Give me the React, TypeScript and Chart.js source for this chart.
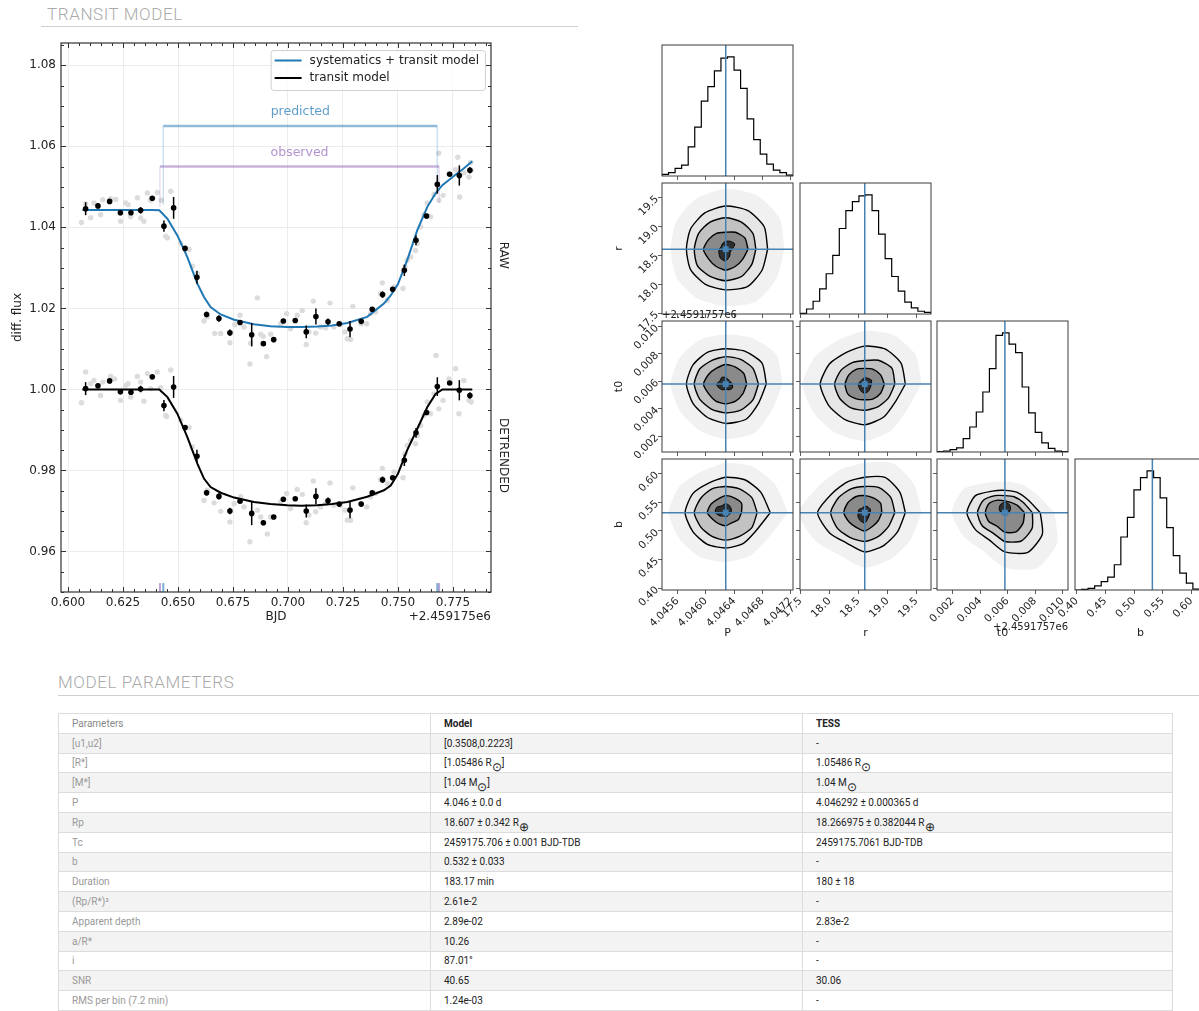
import React, { useEffect, useRef } from "react";
import { Chart, registerables } from "chart.js";

Chart.register(...registerables);

const PLOT_FONT = "'DejaVu Sans', 'Liberation Sans', sans-serif";
const PAGE_FONT = "Roboto, 'Noto Sans', sans-serif";
Chart.defaults.font.family = PLOT_FONT;
Chart.defaults.color = "#222";

// ---------------- light curve: binned points (7.2 min bins) ----------------
const binTime = [0.6080, 0.6136, 0.6189, 0.6238, 0.6286, 0.6330, 0.6383, 0.6436, 0.6480, 0.6532, 0.6586, 0.6630, 0.6686, 0.6736, 0.6782, 0.6835, 0.6888, 0.6935, 0.6979, 0.7033, 0.7083, 0.7127, 0.7182, 0.7233, 0.7282, 0.7333, 0.7383, 0.7430, 0.7476, 0.7529, 0.7582, 0.7630, 0.7679, 0.7735, 0.7779, 0.7827];
const rawBinFlux = [1.0446, 1.0453, 1.0464, 1.0436, 1.0436, 1.0442, 1.0472, 1.0403, 1.0448, 1.0348, 1.0277, 1.0185, 1.0175, 1.0140, 1.0165, 1.0135, 1.0113, 1.0123, 1.0169, 1.0170, 1.0142, 1.0180, 1.0167, 1.0162, 1.0149, 1.0168, 1.0198, 1.0234, 1.0247, 1.0294, 1.0368, 1.0428, 1.0506, 1.0531, 1.0528, 1.0541];
const detBinFlux = [1.0002, 1.0009, 1.0021, 0.9994, 0.9993, 1.0001, 1.0031, 0.9960, 1.0006, 0.9906, 0.9835, 0.9745, 0.9736, 0.9700, 0.9724, 0.9694, 0.9671, 0.9685, 0.9729, 0.9730, 0.9700, 0.9736, 0.9725, 0.9717, 0.9702, 0.9717, 0.9745, 0.9777, 0.9782, 0.9825, 0.9893, 0.9943, 1.0007, 1.0016, 0.9998, 0.9985];
const binErr = [0.0016, 0.0006, 0.0003, 0.0006, 0.0005, 0.0008, 0.0004, 0.0014, 0.0027, 0.0004, 0.0016, 0.0007, 0.0008, 0.0008, 0.0003, 0.0029, 0.0006, 0.0002, 0.0005, 0.0004, 0.0016, 0.0020, 0.0008, 0.0003, 0.0020, 0.0003, 0.0004, 0.0008, 0.0003, 0.0014, 0.0012, 0.0006, 0.0023, 0.0003, 0.0025, 0.0008];

// ---------------- light curve: unbinned exposures ----------------
const rawPtTime = [0.6061, 0.6080, 0.6103, 0.6118, 0.6148, 0.6158, 0.6194, 0.6217, 0.6239, 0.6262, 0.6273, 0.6285, 0.6315, 0.6330, 0.6345, 0.6361, 0.6376, 0.6406, 0.6424, 0.6444, 0.6452, 0.6467, 0.6512, 0.6550, 0.6565, 0.6588, 0.6618, 0.6633, 0.6667, 0.6694, 0.6736, 0.6758, 0.6782, 0.6800, 0.6827, 0.6830, 0.6861, 0.6876, 0.6888, 0.6903, 0.6921, 0.6936, 0.6967, 0.6994, 0.7012, 0.7042, 0.7065, 0.7083, 0.7095, 0.7115, 0.7126, 0.7148, 0.7171, 0.7191, 0.7209, 0.7239, 0.7259, 0.7270, 0.7285, 0.7295, 0.7333, 0.7358, 0.7376, 0.7398, 0.7421, 0.7429, 0.7452, 0.7482, 0.7523, 0.7532, 0.7542, 0.7558, 0.7580, 0.7588, 0.7603, 0.7618, 0.7633, 0.7648, 0.7664, 0.7685, 0.7686, 0.7705, 0.7732, 0.7762, 0.7772, 0.7780, 0.7800, 0.7823, 0.7830, 0.7833];
const rawPtFlux = [1.0412, 1.0458, 1.0424, 1.0460, 1.0431, 1.0468, 1.0471, 1.0469, 1.0415, 1.0460, 1.0456, 1.0426, 1.0473, 1.0423, 1.0415, 1.0485, 1.0467, 1.0486, 1.0467, 1.0378, 1.0374, 1.0489, 1.0361, 1.0346, 1.0304, 1.0286, 1.0169, 1.0179, 1.0138, 1.0138, 1.0115, 1.0160, 1.0183, 1.0154, 1.0063, 1.0114, 1.0226, 1.0136, 1.0131, 1.0081, 1.0136, 1.0121, 1.0162, 1.0187, 1.0150, 1.0183, 1.0195, 1.0111, 1.0142, 1.0218, 1.0139, 1.0154, 1.0152, 1.0213, 1.0154, 1.0160, 1.0142, 1.0125, 1.0123, 1.0205, 1.0162, 1.0162, 1.0187, 1.0191, 1.0236, 1.0263, 1.0220, 1.0253, 1.0249, 1.0302, 1.0319, 1.0327, 1.0343, 1.0360, 1.0401, 1.0431, 1.0460, 1.0426, 1.0481, 1.0583, 1.0467, 1.0479, 1.0533, 1.0542, 1.0573, 1.0475, 1.0535, 1.0524, 1.0560, 1.0541];
const detPtTime = [0.6061, 0.6080, 0.6103, 0.6118, 0.6148, 0.6158, 0.6194, 0.6212, 0.6239, 0.6262, 0.6273, 0.6285, 0.6315, 0.6330, 0.6345, 0.6361, 0.6376, 0.6406, 0.6421, 0.6444, 0.6448, 0.6467, 0.6512, 0.6550, 0.6565, 0.6588, 0.6618, 0.6633, 0.6664, 0.6694, 0.6736, 0.6755, 0.6785, 0.6800, 0.6827, 0.6861, 0.6876, 0.6906, 0.6921, 0.6967, 0.6994, 0.7012, 0.7042, 0.7065, 0.7083, 0.7095, 0.7115, 0.7126, 0.7148, 0.7171, 0.7191, 0.7209, 0.7239, 0.7259, 0.7270, 0.7285, 0.7295, 0.7330, 0.7358, 0.7376, 0.7398, 0.7421, 0.7429, 0.7452, 0.7482, 0.7523, 0.7532, 0.7542, 0.7558, 0.7580, 0.7588, 0.7603, 0.7618, 0.7633, 0.7648, 0.7664, 0.7673, 0.7686, 0.7705, 0.7732, 0.7762, 0.7777, 0.7800, 0.7823, 0.7833];
const detPtFlux = [0.9967, 1.0043, 1.0014, 1.0022, 0.9985, 1.0018, 1.0032, 1.0026, 0.9973, 1.0010, 1.0014, 0.9981, 1.0032, 1.0018, 0.9971, 1.0039, 1.0002, 1.0043, 1.0004, 0.9936, 0.9933, 1.0048, 0.9924, 0.9906, 0.9858, 0.9837, 0.9726, 0.9751, 0.9720, 0.9699, 0.9673, 0.9718, 0.9735, 0.9710, 0.9624, 0.9702, 0.9685, 0.9643, 0.9685, 0.9722, 0.9743, 0.9706, 0.9753, 0.9741, 0.9671, 0.9690, 0.9774, 0.9698, 0.9710, 0.9718, 0.9769, 0.9714, 0.9714, 0.9702, 0.9677, 0.9677, 0.9757, 0.9718, 0.9710, 0.9735, 0.9743, 0.9777, 0.9805, 0.9768, 0.9796, 0.9782, 0.9841, 0.9862, 0.9874, 0.9866, 0.9887, 0.9911, 0.9936, 0.9969, 0.9940, 0.9989, 1.0084, 0.9952, 0.9973, 1.0026, 1.0051, 0.9940, 1.0022, 0.9973, 0.9969];

// ---------------- light curve: fitted models ----------------
const modelTime = [0.6065, 0.6200, 0.6300, 0.6380, 0.6415, 0.6452, 0.6497, 0.6542, 0.6588, 0.6618, 0.6648, 0.6694, 0.6755, 0.6845, 0.6920, 0.6997, 0.7060, 0.7133, 0.7200, 0.7270, 0.7360, 0.7436, 0.7467, 0.7500, 0.7542, 0.7588, 0.7633, 0.7671, 0.7702, 0.7750, 0.7800, 0.7838];
const systematicsModel = [1.0443, 1.0443, 1.0443, 1.0443, 1.0442, 1.0421, 1.0380, 1.0327, 1.0261, 1.0228, 1.0203, 1.0185, 1.0172, 1.0161, 1.0156, 1.0154, 1.0154, 1.0155, 1.0158, 1.0164, 1.0179, 1.0212, 1.0232, 1.0260, 1.0319, 1.0393, 1.0450, 1.0484, 1.0504, 1.0525, 1.0546, 1.0563];
const transitModel = [1.0000, 1.0000, 1.0000, 1.0000, 1.0000, 0.9981, 0.9940, 0.9883, 0.9817, 0.9780, 0.9759, 0.9745, 0.9733, 0.9722, 0.9717, 0.9714, 0.9713, 0.9714, 0.9717, 0.9722, 0.9735, 0.9751, 0.9763, 0.9792, 0.9850, 0.9903, 0.9956, 0.9989, 1.0000, 1.0000, 1.0000, 1.0000];

// transit windows: [ingress, egress]
const predictedWindow = [0.6433, 0.7679];
const observedWindow = [0.6418, 0.7687];
const predictedLevel = 1.065;
const observedLevel = 1.055;
const predictedLegFoot = [1.0455, 1.0500];
const observedLegFoot = [1.0450, 1.0460];
const windowMarkTop = 0.9522;

const lcXTicks = { min: 0.5968, max: 0.7923, step: 0.025, minor: 0.005 };
const lcYTicks = { min: 0.95, max: 1.0855, step: 0.02, minor: 0.005 };
const legendLabels = ["systematics + transit model", "transit model"];
const lcOffsetText = "+2.459175e6";
const panelLabels = [
  { text: "RAW", at: 1.0331 },
  { text: "DETRENDED", at: 0.9837 },
];

// ---------------- posterior samples (corner plot) ----------------
const paramNames = ["P", "r", "t0", "b"];
const paramRanges = [
  [4.04538, 4.04723],
  [17.49, 19.75],
  [0.00085, 0.0104],
  [0.397, 0.6256],
];
const paramTicks = [
  [4.0456, 4.046, 4.0464, 4.0468, 4.0472],
  [17.5, 18.0, 18.5, 19.0, 19.5],
  [0.002, 0.004, 0.006, 0.008, 0.01],
  [0.4, 0.45, 0.5, 0.55, 0.6],
];
const paramDigits = [4, 1, 3, 2];
const paramTruths = [4.04628, 18.607, 0.0058, 0.532];
const t0OffsetText = "+2.4591757e6";

// marginal histograms, 20 bins spanning each parameter range (relative counts)
const histP = [1.4, 2.8, 6.4, 9.2, 24.4, 41, 62.8, 75, 88.3, 98.9, 100, 88.9, 73.6, 48, 30.6, 18.3, 10, 5, 2.8, 0.8];
const histR = [0.6, 4.2, 10.7, 21.1, 33.8, 49.3, 71.8, 86.8, 94.4, 99.2, 100, 86.8, 67.0, 46.5, 31.5, 19.2, 9.9, 5.1, 2.3, 1.4];
const histT0 = [0.3, 0.8, 2.0, 3.4, 11.2, 21, 33.6, 50.4, 70, 98, 100, 90.5, 83.5, 54.6, 32.8, 16.5, 7.6, 3.1, 0.8, 0.3];
const histB = [0, 0.6, 1.4, 3.4, 7.1, 10.8, 21.2, 44.5, 60.9, 84.1, 94.3, 100, 94.3, 77.3, 52.4, 28.9, 14.2, 5.7, 0.8, 0.3];
const histCounts = [histP, histR, histT0, histB];

// 2-D contours (2.0, 1.5, 1.0, 0.5 sigma): radius in % of axis span,
// 12 directions every 30 degrees starting at +x, counter-clockwise
const contourPR = [
  [32, 34, 34, 33, 32, 31, 30, 31, 31, 31, 33, 32],
  [23, 24, 24, 24, 24, 24, 24, 25, 24, 24, 24, 23],
  [17, 17, 15, 13, 14, 15, 17, 15, 15, 16, 15, 15],
  [5, 8, 7, 6, 5, 4, 5, 6, 8, 9, 6, 4],
];
const contourPT0 = [
  [31, 32, 29, 27, 28, 29, 30, 29, 29, 30, 31, 29],
  [25, 24, 22, 21, 21, 23, 24, 23, 22, 22, 23, 24],
  [16, 16, 15, 15, 14, 15, 17, 15, 15, 15, 15, 15],
  [5, 4, 4, 5, 6, 5, 7, 6, 5, 4, 5, 6],
];
const contourRT0 = [
  [31, 32, 31, 29, 28, 31, 34, 32, 31, 31, 29, 27],
  [23, 24, 21, 18, 19, 21, 23, 22, 21, 20, 20, 21],
  [15, 14, 13, 12, 13, 14, 15, 15, 13, 12, 13, 14],
  [5, 6, 5, 5, 4, 4, 5, 5, 6, 7, 6, 5],
];
const contourPB = [
  [34, 31, 29, 27, 26, 29, 31, 29, 28, 27, 27, 27],
  [24, 23, 21, 20, 21, 22, 24, 22, 21, 21, 21, 23],
  [12, 14, 13, 13, 12, 13, 14, 11, 10, 10, 9, 11],
  [4, 5, 6, 7, 6, 8, 8, 5, 3, 3, 3, 3],
];
const contourRB = [
  [31, 31, 31, 27, 27, 29, 36, 31, 27, 30, 29, 29],
  [23, 23, 22, 20, 21, 23, 26, 24, 22, 22, 21, 21],
  [13, 14, 13, 13, 14, 15, 16, 14, 13, 14, 12, 12],
  [4, 5, 5, 5, 4, 5, 5, 6, 7, 8, 5, 4],
];
const contourT0B = [
  [27, 20, 18, 17, 19, 26, 29, 26, 24, 30, 35, 33],
  [21, 16, 14, 13, 15, 19, 21, 20, 18, 22, 25, 24],
  [15, 11, 9, 9, 11, 14, 15, 14, 12, 15, 17, 16],
  [3, 5, 7, 8, 7, 5, 3, 2, 2, 2, 2, 2],
];
const jointPanels = [
  { row: 1, col: 0, levels: contourPR },
  { row: 2, col: 0, levels: contourPT0 },
  { row: 2, col: 1, levels: contourRT0 },
  { row: 3, col: 0, levels: contourPB },
  { row: 3, col: 1, levels: contourRB },
  { row: 3, col: 2, levels: contourT0B },
];

// ---------------- parameter table ----------------
const tableHeader = ["Parameters", "Model", "TESS"];
const paramLabels = ["[u1,u2]", "[R*]", "[M*]", "P", "Rp", "Tc", "b", "Duration", "(Rp/R*)²", "Apparent depth", "a/R*", "i", "SNR", "RMS per bin (7.2 min)"];
const modelValues = ["[0.3508,0.2223]", "[1.05486 R_⊙]", "[1.04 M_⊙]", "4.046 ± 0.0 d", "18.607 ± 0.342 R_⊕", "2459175.706 ± 0.001 BJD-TDB", "0.532 ± 0.033", "183.17 min", "2.61e-2", "2.89e-02", "10.26", "87.01°", "40.65", "1.24e-03"];
const tessValues = ["-", "1.05486 R_⊙", "1.04 M_⊙", "4.046292 ± 0.000365 d", "18.266975 ± 0.382044 R_⊕", "2459175.7061 BJD-TDB", "-", "180 ± 18", "-", "2.83e-2", "-", "-", "30.06", "-"];

// ---------------- layout ----------------
const BLUE = "#1f77b4";
const TRUTH = "#4682b4";
const CORNER_COLS = [662, 800, 937, 1075];
const CORNER_ROWS = [45, 183, 321, 459];
const PANEL = 131;
const AXIS_ROOM = 60;
const EDGE_ROOM = 16;

const pts = (xs: number[], ys: number[]) => xs.map((x, i) => ({ x, y: ys[i] }));
const seg = (x0: number, y0: number, x1: number, y1: number) => [
  { x: x0, y: y0 },
  { x: x1, y: y1 },
];

function lineDs(data: any[], color: string, width: number, order: number, extra: any = {}) {
  return { data, showLine: true, borderColor: color, backgroundColor: color, borderWidth: width, pointRadius: 0, order, ...extra };
}

// decorations for the light-curve axes: error bars, frame, inward ticks, legend and labels
const lightCurveDecor = {
  id: "lightCurveDecor",
  afterDatasetsDraw(chart: any) {
    const ctx = chart.ctx;
    const ys = chart.scales.y;
    const xs = chart.scales.x;
    chart.data.datasets.forEach((ds: any, di: number) => {
      if (!ds.errors) return;
      const meta = chart.getDatasetMeta(di);
      ctx.save();
      ctx.strokeStyle = "#000";
      ctx.lineWidth = 1.5;
      meta.data.forEach((el: any, i: number) => {
        const v = ds.data[i].y;
        const e = ds.errors[i];
        ctx.beginPath();
        ctx.moveTo(el.x, ys.getPixelForValue(v - e));
        ctx.lineTo(el.x, ys.getPixelForValue(v + e));
        ctx.stroke();
      });
      ctx.restore();
    });
    ctx.save();
    ctx.font = `12.5px ${PLOT_FONT}`;
    ctx.textAlign = "center";
    ctx.textBaseline = "middle";
    ctx.fillStyle = "rgba(31,119,180,0.72)";
    ctx.fillText("predicted", xs.getPixelForValue((predictedWindow[0] + predictedWindow[1]) / 2), ys.getPixelForValue(predictedLevel) - 14);
    ctx.fillStyle = "rgba(148,103,189,0.72)";
    ctx.fillText("observed", xs.getPixelForValue((observedWindow[0] + observedWindow[1]) / 2), ys.getPixelForValue(observedLevel) - 13.5);
    ctx.restore();
  },
  afterDraw(chart: any) {
    const ctx = chart.ctx;
    const { left, right, top, bottom } = chart.chartArea;
    const xs = chart.scales.x;
    const ys = chart.scales.y;
    ctx.save();
    ctx.strokeStyle = "#333";
    ctx.lineWidth = 1;
    const tick = (x0: number, y0: number, x1: number, y1: number) => {
      ctx.beginPath();
      ctx.moveTo(x0, y0);
      ctx.lineTo(x1, y1);
      ctx.stroke();
    };
    const per = Math.round(lcXTicks.step / lcXTicks.minor);
    for (let i = Math.ceil(xs.min / lcXTicks.minor - 1e-9); i * lcXTicks.minor <= xs.max + 1e-9; i++) {
      const px = Math.round(xs.getPixelForValue(i * lcXTicks.minor)) + 0.5;
      const len = i % per === 0 ? 5 : 3;
      tick(px, bottom, px, bottom - len);
      tick(px, top, px, top + len);
    }
    const perY = Math.round(lcYTicks.step / lcYTicks.minor);
    for (let i = Math.ceil(ys.min / lcYTicks.minor - 1e-9); i * lcYTicks.minor <= ys.max + 1e-9; i++) {
      const py = Math.round(ys.getPixelForValue(i * lcYTicks.minor)) + 0.5;
      const len = i % perY === 0 ? 5 : 3;
      tick(left, py, left + len, py);
      tick(right, py, right - len, py);
    }
    ctx.lineWidth = 1.2;
    ctx.strokeRect(left, top, right - left, bottom - top);

    // legend
    ctx.font = `12px ${PLOT_FONT}`;
    const tw = Math.max(...legendLabels.map((t) => ctx.measureText(t).width));
    const bw = 39 + tw + 6;
    const bh = 40;
    const bx = right - 6 - bw;
    const by = top + 7;
    ctx.beginPath();
    ctx.roundRect(bx + 0.5, by + 0.5, bw, bh, 3);
    ctx.fillStyle = "rgba(255,255,255,0.85)";
    ctx.fill();
    ctx.strokeStyle = "#d0d0d0";
    ctx.lineWidth = 1;
    ctx.stroke();
    const legendColors = [BLUE, "#000"];
    legendLabels.forEach((t, i) => {
      const ly = by + 10.5 + i * 17.5;
      ctx.strokeStyle = legendColors[i];
      ctx.lineWidth = 2;
      ctx.beginPath();
      ctx.moveTo(bx + 4, ly);
      ctx.lineTo(bx + 31, ly);
      ctx.stroke();
      ctx.fillStyle = "#222";
      ctx.textAlign = "left";
      ctx.textBaseline = "middle";
      ctx.fillText(t, bx + 39, ly);
    });

    // side labels and offset text
    ctx.fillStyle = "#222";
    panelLabels.forEach((p) => {
      ctx.save();
      ctx.translate(right + 12, ys.getPixelForValue(p.at));
      ctx.rotate(Math.PI / 2);
      ctx.textAlign = "center";
      ctx.textBaseline = "middle";
      ctx.fillText(p.text, 0, 0);
      ctx.restore();
    });
    ctx.textAlign = "right";
    ctx.textBaseline = "middle";
    ctx.fillText(lcOffsetText, right, bottom + 25);
    ctx.restore();
  },
};

function buildLightCurve() {
  const binStyle = { backgroundColor: "#000", borderColor: "#000", pointRadius: 2.8, pointBorderWidth: 0, order: 0, errors: binErr };
  const grayStyle = { backgroundColor: "#dcdcdc", borderColor: "#dcdcdc", pointRadius: 2.7, pointBorderWidth: 0, order: 5 };
  const predTop = "rgba(31,119,180,0.5)";
  const predLeg = "rgba(31,119,180,0.22)";
  const obsTop = "rgba(148,103,189,0.5)";
  const obsLeg = "rgba(148,103,189,0.22)";
  const markBottom = lcYTicks.min;
  return {
    type: "scatter",
    data: {
      datasets: [
        { data: pts(binTime, rawBinFlux), ...binStyle },
        { data: pts(binTime, detBinFlux), ...binStyle },
        lineDs(pts(modelTime, systematicsModel), BLUE, 2, 1),
        lineDs(pts(modelTime, transitModel), "#000", 2, 1),
        lineDs(seg(predictedWindow[0], predictedLevel, predictedWindow[1], predictedLevel), predTop, 2.5, 2),
        lineDs(seg(predictedWindow[0], predictedLegFoot[0], predictedWindow[0], predictedLevel), predLeg, 1.5, 3),
        lineDs(seg(predictedWindow[1], predictedLegFoot[1], predictedWindow[1], predictedLevel), predLeg, 1.5, 3),
        lineDs(seg(observedWindow[0], observedLevel, observedWindow[1], observedLevel), obsTop, 2.5, 2),
        lineDs(seg(observedWindow[0], observedLegFoot[0], observedWindow[0], observedLevel), obsLeg, 1.5, 3),
        lineDs(seg(observedWindow[1], observedLegFoot[1], observedWindow[1], observedLevel), obsLeg, 1.5, 3),
        lineDs(seg(predictedWindow[0], markBottom, predictedWindow[0], windowMarkTop), "rgba(31,119,180,0.6)", 2, 2),
        lineDs(seg(predictedWindow[1], markBottom, predictedWindow[1], windowMarkTop), "rgba(31,119,180,0.6)", 2, 2),
        lineDs(seg(observedWindow[0], markBottom, observedWindow[0], windowMarkTop), "rgba(148,103,189,0.6)", 2, 2),
        lineDs(seg(observedWindow[1], markBottom, observedWindow[1], windowMarkTop), "rgba(148,103,189,0.6)", 2, 2),
        { data: pts(rawPtTime, rawPtFlux), ...grayStyle },
        { data: pts(detPtTime, detPtFlux), ...grayStyle },
      ],
    },
    options: {
      animation: false,
      responsive: false,
      events: [],
      layout: { padding: { left: 0, top: 13, right: 69, bottom: 0 } },
      plugins: { legend: { display: false }, tooltip: { enabled: false } },
      scales: {
        x: {
          type: "linear",
          min: lcXTicks.min,
          max: lcXTicks.max,
          afterFit: (s: any) => {
            s.height = 43;
          },
          ticks: { stepSize: lcXTicks.step, includeBounds: false, autoSkip: false, maxRotation: 0, padding: 4, font: { size: 12 }, color: "#222", callback: (v: any) => Number(v).toFixed(3) },
          grid: { color: "#ececec", drawTicks: false, lineWidth: 1 },
          border: { display: false },
          title: { display: true, text: "BJD", font: { size: 12 }, color: "#222", padding: { top: 0, bottom: 10.8 } },
        },
        y: {
          type: "linear",
          min: lcYTicks.min,
          max: lcYTicks.max,
          afterFit: (s: any) => {
            s.width = 61;
          },
          ticks: { stepSize: lcYTicks.step, includeBounds: false, autoSkip: false, padding: 5, font: { size: 12 }, color: "#222", callback: (v: any) => Number(v).toFixed(2) },
          grid: { color: "#ececec", drawTicks: false, lineWidth: 1 },
          border: { display: false },
          title: { display: true, text: "diff. flux", font: { size: 12 }, color: "#222", padding: { top: 10.8, bottom: 0 } },
        },
      },
    },
    plugins: [lightCurveDecor],
  };
}

// ---------------- corner plot panels ----------------
function cornerScale(pi: number, axis: "x" | "y", withLabels: boolean) {
  const [lo, hi] = paramRanges[pi];
  return {
    type: "linear",
    min: lo,
    max: hi,
    afterBuildTicks: (s: any) => {
      s.ticks = paramTicks[pi].map((v) => ({ value: v }));
    },
    afterFit: (s: any) => {
      if (axis === "x") s.height = AXIS_ROOM;
      else s.width = AXIS_ROOM;
    },
    ticks: {
      display: withLabels,
      autoSkip: false,
      minRotation: 45,
      maxRotation: 45,
      padding: 1,
      font: { size: 10.5 },
      color: "#222",
      callback: (v: any) => Number(v).toFixed(paramDigits[pi]),
    },
    grid: { drawOnChartArea: false, drawTicks: true, tickLength: 4, color: "#333", lineWidth: 0.8 },
    border: { display: false },
    title: {
      display: withLabels,
      text: paramNames[pi],
      font: { size: 11 },
      color: "#222",
      padding: axis === "x" ? { top: 0, bottom: 10 } : { top: 11, bottom: 0 },
    },
  };
}

function cornerDecor(offset: "top" | "bottom" | null) {
  return {
    id: "cornerDecor",
    afterDraw(chart: any) {
      const ctx = chart.ctx;
      const { left, right, top, bottom } = chart.chartArea;
      ctx.save();
      ctx.strokeStyle = "#3a3a3a";
      ctx.lineWidth = 1;
      ctx.strokeRect(left, top, right - left, bottom - top);
      if (offset) {
        ctx.font = `10px ${PLOT_FONT}`;
        ctx.fillStyle = "#222";
        if (offset === "top") {
          ctx.textAlign = "left";
          ctx.textBaseline = "bottom";
          ctx.fillText(t0OffsetText, left, top - 1);
        } else {
          ctx.textAlign = "right";
          ctx.textBaseline = "middle";
          ctx.fillText(t0OffsetText, right, bottom + 37);
        }
      }
      ctx.restore();
    },
  };
}

const baseOptions = () => ({
  animation: false,
  responsive: false,
  events: [],
  layout: { padding: { left: 0, top: EDGE_ROOM, right: EDGE_ROOM, bottom: 0 } },
  plugins: { legend: { display: false }, tooltip: { enabled: false } },
});

function buildHistogram(pi: number) {
  const [lo, hi] = paramRanges[pi];
  const counts = histCounts[pi];
  const n = counts.length;
  const step = [{ x: lo, y: 0 }, ...counts.map((c, i) => ({ x: lo + ((hi - lo) * i) / n, y: c })), { x: hi, y: counts[n - 1] }, { x: hi, y: 0 }];
  const topY = Math.max(...counts) * 1.1;
  return {
    type: "scatter",
    data: {
      datasets: [
        lineDs(seg(paramTruths[pi], 0, paramTruths[pi], topY), TRUTH, 1.5, 0),
        lineDs(step, "#000", 1.2, 1, { stepped: true }),
      ],
    },
    options: {
      ...baseOptions(),
      scales: {
        x: cornerScale(pi, "x", pi === 3),
        y: {
          type: "linear",
          min: 0,
          max: topY,
          afterFit: (s: any) => {
            s.width = AXIS_ROOM;
          },
          ticks: { display: false },
          grid: { display: false },
          border: { display: false },
        },
      },
    },
    plugins: [cornerDecor(null)],
  };
}

function buildJoint(row: number, col: number, levels: number[][]) {
  const [xlo, xhi] = paramRanges[col];
  const [ylo, yhi] = paramRanges[row];
  const cx = paramTruths[col];
  const cy = paramTruths[row];
  const ring = (radii: number[], k = 1) => {
    const p = radii.map((r, i) => {
      const a = (i * Math.PI) / 6;
      return { x: cx + ((k * r) / 100) * Math.cos(a) * (xhi - xlo), y: cy + ((k * r) / 100) * Math.sin(a) * (yhi - ylo) };
    });
    p.push(p[0]);
    return p;
  };
  const area = (data: any[], fillColor: string, lineColor: string, lw: number, order: number) => ({
    data,
    showLine: true,
    fill: "shape",
    backgroundColor: fillColor,
    borderColor: lineColor,
    borderWidth: lw,
    pointRadius: 0,
    tension: 0.22,
    order,
  });
  const offset = row === 2 && col === 0 ? "top" : row === 3 && col === 2 ? "bottom" : null;
  return {
    type: "scatter",
    data: {
      datasets: [
        { data: [{ x: cx, y: cy }], pointStyle: "rect", pointRadius: 4.2, backgroundColor: TRUTH, borderWidth: 0, order: 0 },
        lineDs(seg(cx, ylo, cx, yhi), TRUTH, 1.5, 1),
        lineDs(seg(xlo, cy, xhi, cy), TRUTH, 1.5, 1),
        area(ring(levels[3]), "#2e2e2e", "#000", 1, 2),
        area(ring(levels[2]), "#8a8a8a", "#000", 1.4, 3),
        area(ring(levels[1]), "#c2c2c2", "#000", 1.4, 4),
        area(ring(levels[0]), "#e6e6e6", "#000", 1.4, 5),
        area(ring(levels[0], 1.4), "rgba(0,0,0,0.055)", "rgba(0,0,0,0)", 1, 6),
      ],
    },
    options: {
      ...baseOptions(),
      scales: {
        x: cornerScale(col, "x", row === 3),
        y: cornerScale(row, "y", col === 0),
      },
    },
    plugins: [cornerDecor(offset)],
  };
}

function ChartCanvas({ left, top, width, height, build }: any) {
  const ref = useRef<HTMLCanvasElement | null>(null);
  useEffect(() => {
    const chart = new Chart(ref.current as HTMLCanvasElement, build());
    return () => chart.destroy();
  }, []);
  return <canvas ref={ref} width={width} height={height} style={{ position: "absolute", left, top, width, height }} />;
}

function cornerBox(row: number, col: number) {
  return {
    left: CORNER_COLS[col] - AXIS_ROOM,
    top: CORNER_ROWS[row] - EDGE_ROOM,
    width: PANEL + AXIS_ROOM + EDGE_ROOM,
    height: PANEL + AXIS_ROOM + EDGE_ROOM,
  };
}

function withSubscripts(text: string) {
  const parts = text.split(/_(.)/);
  return parts.map((p, i) =>
    i % 2 === 1 ? (
      <sub key={i} style={{ fontSize: "1.15em", verticalAlign: "-0.45em", lineHeight: 0 }}>
        {p}
      </sub>
    ) : (
      <React.Fragment key={i}>{p}</React.Fragment>
    )
  );
}

function SectionTitle({ text, left, top, ruleLeft, ruleWidth, ruleTop }: any) {
  return (
    <>
      <div style={{ position: "absolute", left, top, fontFamily: PAGE_FONT, fontWeight: 300, fontSize: 17, letterSpacing: 0.6, lineHeight: "20px", color: "#aaa", whiteSpace: "nowrap" }}>{text}</div>
      <div style={{ position: "absolute", left: ruleLeft, top: ruleTop, width: ruleWidth, height: 1, background: "#cfcfcf" }} />
    </>
  );
}

function ParamTable() {
  const cell = (extra: any = {}) => ({
    border: "1px solid #dcdcdc",
    padding: "0 13px",
    textAlign: "left" as const,
    whiteSpace: "nowrap" as const,
    overflow: "hidden",
    ...extra,
  });
  return (
    <table style={{ position: "absolute", left: 58, top: 713, width: 1114, borderCollapse: "collapse", tableLayout: "fixed", fontFamily: PAGE_FONT, fontSize: 10, color: "#222" }}>
      <colgroup>
        <col style={{ width: 372 }} />
        <col style={{ width: 372 }} />
        <col style={{ width: 370 }} />
      </colgroup>
      <thead>
        <tr style={{ height: 19.8, background: "#fff" }}>
          <th style={cell({ fontWeight: 400, color: "#888" })}>{tableHeader[0]}</th>
          <th style={cell({ fontWeight: 700 })}>{tableHeader[1]}</th>
          <th style={cell({ fontWeight: 700 })}>{tableHeader[2]}</th>
        </tr>
      </thead>
      <tbody>
        {paramLabels.map((lab, i) => (
          <tr key={lab} style={{ height: 19.8, background: i % 2 === 0 ? "#f3f3f3" : "#fff" }}>
            <td style={cell({ color: "#999" })}>{lab}</td>
            <td style={cell()}>{withSubscripts(modelValues[i])}</td>
            <td style={cell()}>{withSubscripts(tessValues[i])}</td>
          </tr>
        ))}
      </tbody>
    </table>
  );
}

export default function App() {
  return (
    <div style={{ position: "absolute", left: 0, top: 0, width: 1199, height: 1011, overflow: "hidden", background: "#fff" }}>
      <SectionTitle text="TRANSIT MODEL" left={47} top={4} ruleLeft={41} ruleWidth={537} ruleTop={26} />
      <ChartCanvas left={0} top={30} width={560} height={605} build={buildLightCurve} />
      {[0, 1, 2, 3].map((i) => (
        <ChartCanvas key={`h${i}`} {...cornerBox(i, i)} build={() => buildHistogram(i)} />
      ))}
      {jointPanels.map((p) => (
        <ChartCanvas key={`j${p.row}${p.col}`} {...cornerBox(p.row, p.col)} build={() => buildJoint(p.row, p.col, p.levels)} />
      ))}
      <SectionTitle text="MODEL PARAMETERS" left={58} top={672} ruleLeft={58} ruleWidth={1141} ruleTop={695} />
      <ParamTable />
    </div>
  );
}
